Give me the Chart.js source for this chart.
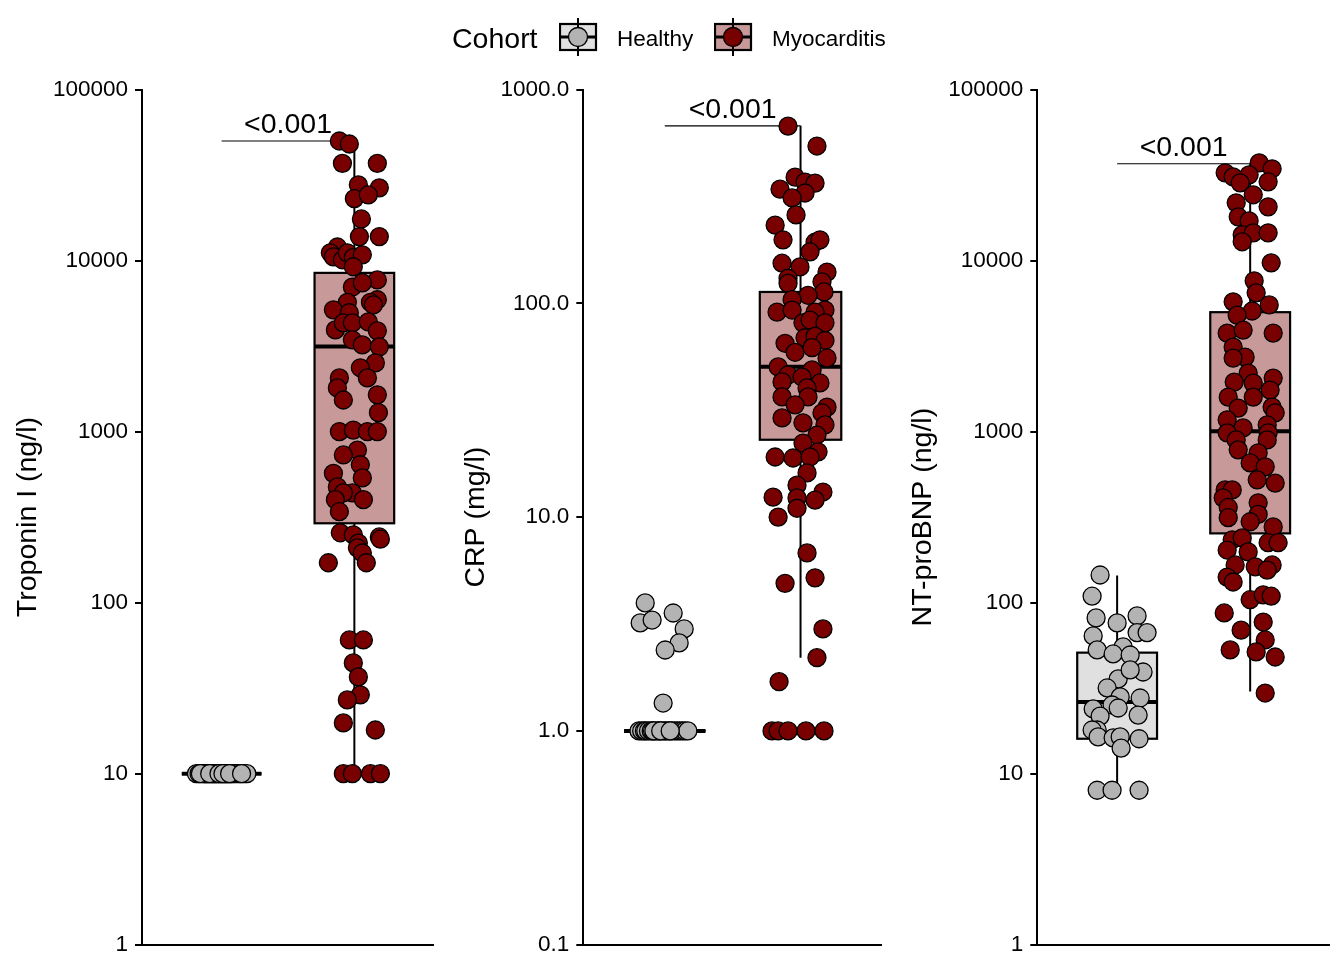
<!DOCTYPE html>
<html lang="en">
<head>
<meta charset="UTF-8">
<title>Cohort biomarkers</title>
<script src="https://cdn.jsdelivr.net/npm/chart.js"></script>
<style>
    body { margin: 0; background: #fff; font-family: 'Liberation Sans', Arial, sans-serif; }
    #wrap { position: relative; width: 1344px; height: 960px; overflow: hidden; }
    canvas { position: absolute; top: 0; }
    .lg { position: absolute; line-height: 1; color: #000; white-space: nowrap; }
    .key { position: absolute; }
</style>
</head>
<body>
<div id="wrap">
    <canvas id="trop" width="434" height="960" style="left:0"></canvas>
    <canvas id="crp" width="437" height="960" style="left:445px"></canvas>
    <canvas id="bnp" width="435" height="960" style="left:895px"></canvas>

    <!-- legend -->
    <div class="lg" style="left:452px; top:24px; font-size:28.5px">Cohort</div>
    <svg class="key" style="left:559px; top:18px" width="40" height="38">
        <rect x="1" y="6" width="36" height="26" fill="#E0E0E0" stroke="#000" stroke-width="2.2"/>
        <line x1="19" y1="0" x2="19" y2="38" stroke="#000" stroke-width="2"/>
        <line x1="1" y1="19" x2="37" y2="19" stroke="#000" stroke-width="3"/>
        <circle cx="19" cy="19" r="9.5" fill="#B3B3B3" stroke="#000" stroke-width="1.3"/>
    </svg>
    <div class="lg" style="left:617px; top:27.6px; font-size:22.5px">Healthy</div>
    <svg class="key" style="left:714px; top:18px" width="40" height="38">
        <rect x="1" y="6" width="36" height="26" fill="#C89999" stroke="#000" stroke-width="2.2"/>
        <line x1="19" y1="0" x2="19" y2="38" stroke="#000" stroke-width="2"/>
        <line x1="1" y1="19" x2="37" y2="19" stroke="#000" stroke-width="3"/>
        <circle cx="19" cy="19" r="9.5" fill="#780000" stroke="#000" stroke-width="1.3"/>
    </svg>
    <div class="lg" style="left:772px; top:27.6px; font-size:22.5px">Myocarditis</div>
</div>

<script>
    // Troponin I (ng/l)
    const tropHealthyX = [0.81, 0.83, 0.86, 0.87, 0.89, 0.90, 0.92, 0.93, 0.95, 0.96, 0.97, 0.99, 1.00, 1.02, 1.03, 1.05,
        1.07, 1.08, 1.10, 1.12, 1.14, 1.17, 1.19, 0.88, 0.94, 1.04, 0.84, 0.91, 0.98, 1.01, 1.06, 1.15];
    const tropHealthyY = [10, 10, 10, 10, 10, 10, 10, 10, 10, 10, 10, 10, 10, 10, 10, 10,
        10, 10, 10, 10, 10, 10, 10, 10, 10, 10, 10, 10, 10, 10, 10, 10];
    const tropMyoX = [1.887, 1.962, 1.910, 2.173, 2.030, 2.188, 2.000, 2.105, 2.053, 2.038, 2.188, 1.872, 1.819, 1.842,
        1.910, 1.947, 1.992, 2.060, 1.992, 2.173, 1.985, 2.060, 1.947, 2.173, 1.842, 2.121, 2.143, 1.962, 1.857, 1.917,
        1.985, 2.105, 2.173, 1.985, 2.060, 2.188, 2.158, 2.045, 1.887, 2.098, 1.872, 1.917, 2.173, 2.181, 1.887, 1.992,
        2.098, 2.173, 2.023, 1.917, 2.045, 1.842, 2.060, 1.872, 1.985, 1.917, 2.068, 1.857, 1.887, 1.894, 1.992, 2.188,
        2.030, 2.023, 2.060, 2.090, 1.804, 2.196, 1.962, 2.068, 1.992, 2.030, 2.045, 1.947, 1.917, 2.158, 1.917, 1.985,
        2.121, 2.196];
    const tropMyoY = [50000, 48000, 37000, 37000, 27700, 26600, 23000, 24200, 17500, 13800, 13800, 12000, 11100, 10500,
        10100, 11100, 10400, 10800, 9200, 7700, 7000, 7400, 5700, 5900, 5150, 5700, 5500, 4950, 3930, 4320,
        4320, 4380, 3880, 3440, 3210, 3130, 2520, 2360, 2060, 2060, 1800, 1530, 1640, 1290, 1000, 1020,
        1000, 1000, 780, 730, 640, 570, 536, 475, 438, 438, 400, 400, 340, 256, 249, 242,
        223, 209, 195, 171, 171, 235, 60.5, 60.5, 44.4, 36.8, 28.9, 27, 19.8, 18, 10, 10,
        10, 10];
    // box stats: min, q1, median, q3, max
    const tropBoxHealthy = [10, 10, 10, 10, 10];
    const tropBoxMyo = [10, 291, 3146, 8470, 50000];

    // CRP (mg/l)
    const crpHealthyX = [0.856, 0.819, 0.907, 1.062, 1.143, 1.106, 1.003, 0.988,
        0.81, 0.83, 0.85, 0.86, 0.88, 0.90, 0.91, 0.93, 0.95, 0.96, 0.98, 1.00, 1.01, 1.03, 1.05, 1.07, 1.09, 1.11,
        1.13, 1.15, 1.17, 0.92, 0.97, 1.04];
    const crpHealthyY = [3.97, 3.2, 3.3, 3.56, 3.0, 2.58, 2.39, 1.35,
        1, 1, 1, 1, 1, 1, 1, 1, 1, 1, 1, 1, 1, 1, 1, 1, 1, 1,
        1, 1, 1, 1, 1, 1];
    const crpMyoX = [1.908, 2.121, 1.960, 2.033, 2.107, 1.849, 2.033, 1.938, 1.967, 1.813,
        1.871, 2.107, 2.143, 2.070, 1.864, 1.996, 2.195, 1.908, 2.158, 1.908,
        2.173, 2.055, 1.938, 1.827, 1.938, 2.180, 2.107, 2.018, 2.070, 2.180,
        1.886, 2.033, 2.107, 2.180, 1.960, 2.085, 2.195, 1.835, 2.085, 1.908,
        2.011, 1.864, 2.143, 2.048, 1.864, 2.055, 1.960, 2.195, 2.158, 1.864,
        2.018, 2.180, 2.121, 2.018, 2.129, 1.813, 1.945, 2.070, 2.048, 1.974,
        2.165, 1.798, 1.974, 2.107, 1.974, 1.835, 2.048, 1.886, 2.107, 2.165,
        2.121, 1.842, 1.790, 1.835, 1.908, 2.040, 2.173];
    const crpMyoY = [674, 544, 389, 369, 365, 342, 328, 311, 259, 232,
        198, 193, 198, 174, 154, 148, 140, 131, 126, 124,
        113, 109, 104, 91, 93, 93, 91, 81, 83.5, 81,
        65, 69, 70, 67, 59, 62, 55.5, 50.4, 48.8, 46.2,
        45.2, 42.9, 42.4, 40.2, 36.5, 36.5, 33.5, 32.7, 30.7, 29.1,
        27.6, 27, 24.2, 22.2, 20.2, 19.1, 18.9, 19.1, 16.1, 14.1,
        13.1, 12.4, 12.3, 12, 11, 10, 6.8, 4.9, 5.2, 3.0,
        2.2, 1.7, 1, 1, 1, 1, 1];
    const crpBoxHealthy = [1, 1, 1, 1, 1];
    const crpBoxMyo = [2.2, 23, 50.5, 113, 676];

    // NT-proBNP (ng/l)
    const bnpHealthyX = [0.872, 0.812, 0.842, 1.000, 1.150, 0.820, 1.150, 1.225, 0.850, 1.045,
        0.970, 1.098, 1.195, 1.008, 1.098, 0.925, 1.023, 1.173, 0.962, 0.820,
        1.008, 0.872, 1.158, 0.850, 0.812, 0.857, 0.970, 1.023, 1.165, 1.030,
        0.850, 0.962, 1.165];
    const bnpHealthyY = [145, 109, 81.4, 76.1, 83.6, 63.9, 66.8, 66.8, 52.9, 55.1,
        50.1, 49.4, 39.3, 35.8, 40.4, 31.7, 28.1, 27.7, 25.2, 23.9,
        24.2, 21.7, 22, 18, 18, 16.4, 16.2, 16.4, 16, 14.1,
        8, 8, 8];
    const bnpMyoX = [2.068, 2.165, 1.812, 1.872, 1.992, 1.925, 2.135, 2.023, 1.895, 2.135,
        1.910, 1.992, 1.940, 2.023, 2.135, 1.940, 2.158, 2.030, 2.045, 1.872,
        2.143, 2.015, 1.902, 1.827, 1.947, 2.173, 1.872, 1.962, 1.872, 1.985,
        2.173, 1.880, 2.023, 2.150, 1.835, 2.023, 1.910, 2.165, 2.188, 1.827,
        2.128, 1.947, 1.827, 2.135, 1.895, 2.128, 1.910, 2.060, 2.000, 2.113,
        2.053, 2.188, 1.812, 1.865, 1.797, 2.060, 1.835, 2.060, 1.835, 2.000,
        2.173, 1.865, 1.940, 2.135, 2.210, 1.827, 1.985, 1.887, 2.038, 2.165,
        1.827, 1.872, 2.128, 2.000, 2.098, 2.158, 1.805, 2.098, 1.932, 2.113,
        1.850, 2.045, 2.188, 2.113];
    const bnpMyoY = [37260, 34390, 32570, 30860, 31700, 28470, 28850, 24230, 21750, 20610,
        18010, 17070, 14130, 14520, 14520, 12870, 9700, 7610, 6475, 5735,
        5505, 5070, 4800, 3767, 3922, 3767, 3120, 2727, 2690, 2198,
        2055, 1948, 1921, 1748, 1591, 1591, 1372, 1391, 1287, 1171,
        1094, 1051, 983, 983, 894, 894, 782, 751, 656, 622,
        522, 500, 456, 456, 410, 383, 360, 328, 314, 297,
        277, 233, 239, 224, 224, 203, 198, 166, 162, 166,
        141, 132, 155, 104, 111, 109, 87, 77, 69, 60.5,
        52.9, 51.5, 48.1, 29.6];
    const bnpBoxHealthy = [8, 16, 26.2, 51, 144];
    const bnpBoxMyo = [30.2, 254, 1003, 4990, 36800];

    // tick labels
    const ngTicks = [1, 10, 100, 1000, 10000, 100000];
    const ngTickLabels = ['1', '10', '100', '1000', '10000', '100000'];
    const crpTicks = [0.1, 1, 10, 100, 1000];
    const crpTickLabels = ['0.1', '1.0', '10.0', '100.0', '1000.0'];

    // p value brackets (drawn at height of the tallest point)
    const pLabel = '<0.001';
    const pBracketY = [50000, 676, 36800];

    const healthyPoint = '#B3B3B3';
    const myoPoint = '#780000';
    const healthyBox = '#E0E0E0';
    const myoBox = '#C89999';

    Chart.defaults.font.family = "'Liberation Sans', Arial, sans-serif";
    Chart.defaults.color = '#000';

    function pts(xs, ys) {
        return xs.map((x, i) => ({ x: x, y: ys[i] }));
    }

    function boxPlugin(stats, bracketY) {
        return {
            id: 'boxes',
            beforeDatasetsDraw(chart) {
                const { ctx, scales: { x, y } } = chart;
                const fills = [healthyBox, myoBox];
                stats.forEach((b, i) => {
                    const cx = x.getPixelForValue(i + 1);
                    const l = x.getPixelForValue(i + 0.7);
                    const r = x.getPixelForValue(i + 1.3);
                    const [mn, q1, md, q3, mx] = b.map(v => y.getPixelForValue(v));
                    ctx.save();
                    ctx.strokeStyle = '#000';
                    ctx.lineWidth = 2;
                    ctx.beginPath();
                    ctx.moveTo(cx, q3); ctx.lineTo(cx, mx);
                    ctx.moveTo(cx, q1); ctx.lineTo(cx, mn);
                    ctx.stroke();
                    ctx.fillStyle = fills[i];
                    ctx.fillRect(l, q3, r - l, q1 - q3);
                    ctx.lineWidth = 2.2;
                    ctx.strokeRect(l, q3, r - l, q1 - q3);
                    ctx.lineWidth = 4;
                    ctx.beginPath();
                    ctx.moveTo(l, md); ctx.lineTo(r, md);
                    ctx.stroke();
                    ctx.restore();
                });

                const by = y.getPixelForValue(bracketY);
                const x1 = x.getPixelForValue(1), x2 = x.getPixelForValue(2);
                ctx.save();
                ctx.strokeStyle = '#000';
                ctx.lineWidth = 1.2;
                ctx.beginPath();
                ctx.moveTo(x1, by); ctx.lineTo(x2, by);
                ctx.stroke();
                ctx.fillStyle = '#000';
                ctx.font = "28.5px 'Liberation Sans', Arial, sans-serif";
                ctx.textAlign = 'center';
                ctx.textBaseline = 'alphabetic';
                ctx.fillText(pLabel, (x1 + x2) / 2, by - 8);
                ctx.restore();
            }
        };
    }

    function panel(id, o) {
        const pointStyle = { pointRadius: 9, pointBorderWidth: 1.3, pointBorderColor: '#000' };
        new Chart(document.getElementById(id), {
            type: 'scatter',
            data: {
                datasets: [
                    Object.assign({ label: 'Healthy', data: pts(o.hx, o.hy), pointBackgroundColor: healthyPoint }, pointStyle),
                    Object.assign({ label: 'Myocarditis', data: pts(o.mx, o.my), pointBackgroundColor: myoPoint }, pointStyle)
                ]
            },
            options: {
                responsive: false,
                animation: false,
                devicePixelRatio: 1,
                events: [],
                layout: { autoPadding: false, padding: { top: 89.5, bottom: 15.3, left: 0, right: 0 } },
                plugins: { legend: { display: false }, tooltip: { enabled: false } },
                scales: {
                    x: {
                        type: 'linear', min: 0.4, max: 2.6,
                        ticks: { display: false },
                        grid: { display: false },
                        border: { color: '#000', width: 2 },
                        afterFit: s => { s.height = 0; }
                    },
                    y: {
                        type: 'logarithmic',
                        min: o.ticks[0], max: o.ticks[o.ticks.length - 1],
                        afterBuildTicks: s => { s.ticks = o.ticks.map(v => ({ value: v })); },
                        ticks: {
                            autoSkip: false,
                            padding: 7,
                            color: '#000',
                            font: { size: 22.5 },
                            callback: (v, i) => o.labels[i]
                        },
                        grid: { drawOnChartArea: false, color: '#000', lineWidth: 2, tickLength: 7 },
                        border: { color: '#000', width: 2 },
                        title: {
                            display: true, text: o.title, color: '#000',
                            font: { size: 28.5 }, padding: { top: o.titlePad, bottom: 0 }
                        },
                        // fixed axis width; drop the label overhang so the plot can reach the padding
                        afterFit: s => { s.width = o.axisW; s.paddingTop = 0; s.paddingBottom = 0; }
                    }
                }
            },
            plugins: [boxPlugin(o.boxes, o.bracket)]
        });
    }

    panel('trop', {
        hx: tropHealthyX, hy: tropHealthyY, mx: tropMyoX, my: tropMyoY,
        boxes: [tropBoxHealthy, tropBoxMyo], bracket: pBracketY[0],
        ticks: ngTicks, labels: ngTickLabels, title: 'Troponin I (ng/l)', titlePad: 11.4, axisW: 142
    });
    panel('crp', {
        hx: crpHealthyX, hy: crpHealthyY, mx: crpMyoX, my: crpMyoY,
        boxes: [crpBoxHealthy, crpBoxMyo], bracket: pBracketY[1],
        ticks: crpTicks, labels: crpTickLabels, title: 'CRP (mg/l)', titlePad: 13.9, axisW: 138.3
    });
    panel('bnp', {
        hx: bnpHealthyX, hy: bnpHealthyY, mx: bnpMyoX, my: bnpMyoY,
        boxes: [bnpBoxHealthy, bnpBoxMyo], bracket: pBracketY[2],
        ticks: ngTicks, labels: ngTickLabels, title: 'NT-proBNP (ng/l)', titlePad: 11.4, axisW: 142.3
    });
</script>
</body>
</html>
